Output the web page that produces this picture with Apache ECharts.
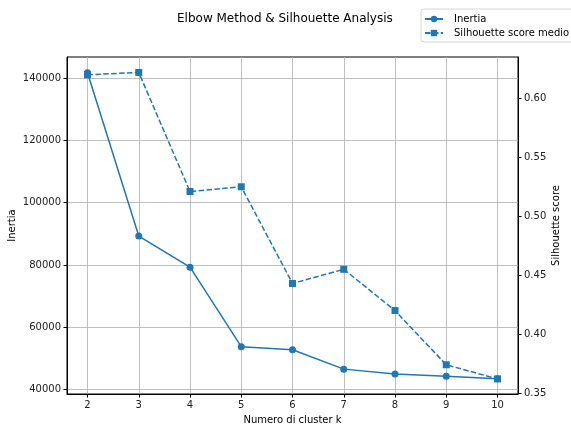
<!DOCTYPE html>
<html>
<head>
<meta charset="utf-8">
<script src="https://cdn.jsdelivr.net/npm/echarts@6/dist/echarts.min.js"></script>
<style>
html,body{margin:0;padding:0;background:#fff;}
#chart{width:571px;height:426px;}
</style>
</head>
<body>
<div id="chart"></div>
<script>
const kValues = [2, 3, 4, 5, 6, 7, 8, 9, 10];
const inertia = [141700, 89300, 79300, 53800, 52800, 46600, 45000, 44300, 43500];
const silhouette = [0.620, 0.622, 0.521, 0.525, 0.443, 0.455, 0.420, 0.374, 0.362];
const xTicks = [2, 3, 4, 5, 6, 7, 8, 9, 10];
const inertiaTicks = [40000, 60000, 80000, 100000, 120000, 140000];
const silTicks = [0.35, 0.40, 0.45, 0.50, 0.55, 0.60];

const FONT = 'DejaVu Sans';
const C = '#1f77b4';
const chart = echarts.init(document.getElementById('chart'), null, {renderer: 'canvas'});
chart.setOption({
  animation: false,
  backgroundColor: '#fff',
  textStyle: {fontFamily: FONT},
  title: {
    text: 'Elbow Method & Silhouette Analysis',
    left: 177, top: 13,
    padding: 0,
    textStyle: {fontFamily: FONT, fontSize: 12, fontWeight: 'normal', color: '#000'}
  },
  legend: {
    orient: 'vertical',
    left: 421, top: 9,
    itemWidth: 18, itemHeight: 8,
    itemGap: 4,
    padding: [5, 6, 4, 3],
    borderColor: '#d6d6d6', borderWidth: 1, borderRadius: 3,
    backgroundColor: '#fff',
    textStyle: {fontFamily: FONT, fontSize: 10, color: '#000', padding: [0, 0, 0, 6]},
    data: ['Inertia', 'Silhouette score medio']
  },
  grid: {left: 67, right: 53, top: 57, bottom: 32, containLabel: false, outerBoundsMode: 'none',
         show: true, borderColor: '#000', borderWidth: 1, backgroundColor: 'transparent'},
  xAxis: {
    type: 'value', min: 1.6, max: 10.4,
    name: 'Numero di cluster k', nameLocation: 'middle', nameGap: 21, nameMoveOverlap: false,
    nameTextStyle: {fontFamily: FONT, fontSize: 10, color: '#000'},
    axisLine: {show: true, lineStyle: {color: '#000', width: 1}},
    axisTick: {show: true, length: 3.5, lineStyle: {color: '#000'}, customValues: xTicks},
    axisLabel: {fontFamily: FONT, fontSize: 10, color: '#222', margin: 6, customValues: xTicks,
                formatter: v => String(v)},
    splitLine: {show: true, lineStyle: {color: '#b0b0b0', width: 0.8}}
  },
  yAxis: [{
    type: 'value', min: 38620, max: 146740, position: 'left',
    name: 'Inertia', nameLocation: 'middle', nameGap: 50, nameRotate: 90, nameMoveOverlap: false,
    nameTextStyle: {fontFamily: FONT, fontSize: 10, color: '#000'},
    axisLine: {show: true, lineStyle: {color: '#000', width: 1}},
    axisTick: {show: true, length: 3.5, lineStyle: {color: '#000'}, customValues: inertiaTicks},
    axisLabel: {fontFamily: FONT, fontSize: 10, color: '#222', margin: 6, customValues: inertiaTicks,
                formatter: v => String(Math.round(v))},
    splitLine: {show: true, lineStyle: {color: '#b0b0b0', width: 0.8}}
  }, {
    type: 'value', min: 0.3492, max: 0.6351, position: 'right',
    name: 'Silhouette score', nameLocation: 'middle', nameGap: 33, nameRotate: 90, nameMoveOverlap: false,
    nameTextStyle: {fontFamily: FONT, fontSize: 10, color: '#000'},
    axisLine: {show: true, lineStyle: {color: '#000', width: 1}},
    axisTick: {show: true, length: 3.5, lineStyle: {color: '#000'}, customValues: silTicks},
    axisLabel: {fontFamily: FONT, fontSize: 10, color: '#222', margin: 6, customValues: silTicks,
                formatter: v => v.toFixed(2)},
    splitLine: {show: false}
  }],
  series: [{
    name: 'Inertia', type: 'line', yAxisIndex: 0,
    data: kValues.map((k, i) => [k, inertia[i]]),
    symbol: 'circle', symbolSize: 7,
    itemStyle: {color: C},
    lineStyle: {color: C, width: 1.5}
  }, {
    name: 'Silhouette score medio', type: 'line', yAxisIndex: 1,
    data: kValues.map((k, i) => [k, silhouette[i]]),
    symbol: 'rect', symbolSize: 7,
    itemStyle: {color: C},
    lineStyle: {color: C, width: 1.5, type: [5.5, 2.4]}
  }]
});
</script>
</body>
</html>
